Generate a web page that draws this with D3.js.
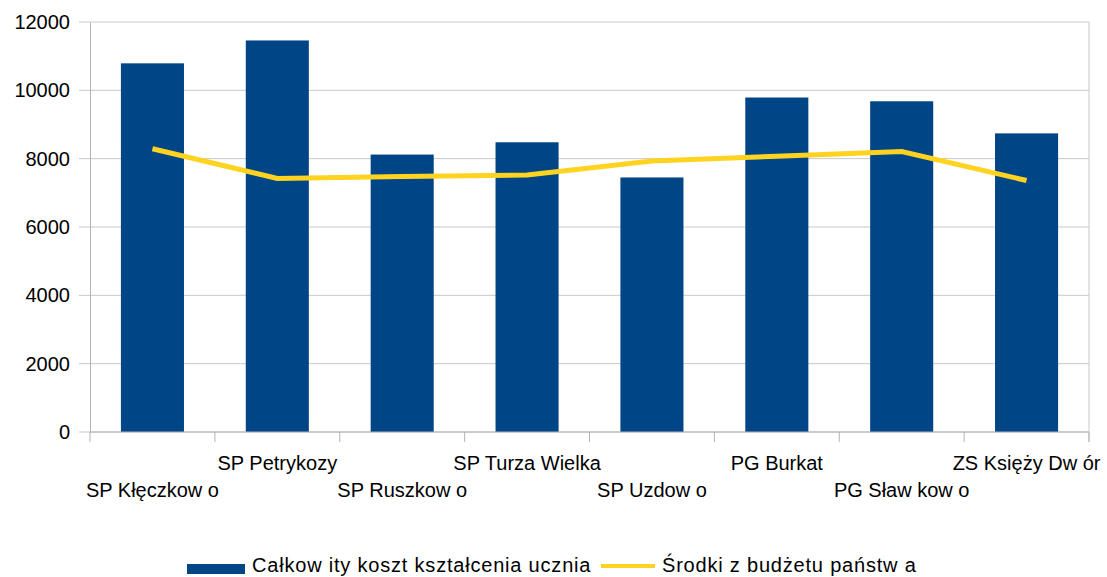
<!DOCTYPE html>
<html>
<head>
<meta charset="utf-8">
<script src="https://cdn.jsdelivr.net/npm/d3@7"></script>
<style>
  body { margin: 0; background: #fff; }
  text { font-family: "Liberation Sans", Arial, sans-serif; fill: #000; }
</style>
</head>
<body>
<div id="chart"></div>
<script>
// data
const schools = ["SP Kłęczkow o", "SP Petrykozy", "SP Ruszkow o", "SP Turza Wielka",
  "SP Uzdow o", "PG Burkat", "PG Sław kow o", "ZS Księży Dw ór"];
const totalCost = [10790, 11460, 8120, 8480, 7450, 9790, 9680, 8740];
const stateFunds = [8290, 7420, 7480, 7520, 7930, 8070, 8210, 7360];
const yTicks = [0, 2000, 4000, 6000, 8000, 10000, 12000];
const seriesNames = ["Całkow ity koszt kształcenia ucznia", "Środki z budżetu państw a"];

const W = 1107, H = 577;
const margin = { top: 22, left: 90, right: 18, bottom: 145 };
const width = W - margin.left - margin.right;
const height = H - margin.top - margin.bottom;

const svg = d3.select("#chart").append("svg")
  .attr("width", W).attr("height", H);
const g = svg.append("g")
  .attr("transform", `translate(${margin.left},${margin.top})`);

const x = d3.scaleBand().domain(schools).range([0, width]).paddingInner(0).paddingOuter(0);
const y = d3.scaleLinear().domain([0, 12000]).range([height, 0]);

// gridlines
g.append("g")
  .selectAll("line")
  .data(yTicks)
  .join("line")
    .attr("x1", -11).attr("x2", width)
    .attr("y1", d => y(d)).attr("y2", d => y(d))
    .attr("stroke", "#c8c8c8").attr("stroke-width", 1);

// y axis
const yAxis = g.append("g")
  .call(d3.axisLeft(y).tickValues(yTicks).tickSize(0).tickPadding(20).tickFormat(d3.format("d")));
yAxis.select(".domain").attr("stroke", "#b3b3b3");
yAxis.selectAll("text").style("font-size", "20px");

// right border
g.append("line")
  .attr("x1", width).attr("x2", width).attr("y1", 0).attr("y2", height + 10)
  .attr("stroke", "#c8c8c8");

// bars
const barW = x.bandwidth() * 0.505;
g.selectAll("rect.bar")
  .data(totalCost)
  .join("rect")
    .attr("class", "bar")
    .attr("x", (d, i) => x(schools[i]) + (x.bandwidth() - barW) / 2)
    .attr("y", d => y(d))
    .attr("width", barW)
    .attr("height", d => height - y(d))
    .attr("fill", "#004586");

// x axis with ticks at band boundaries
const xb = g.append("g").attr("transform", `translate(0,${height})`);
xb.append("line").attr("x1", 0).attr("x2", width).attr("stroke", "#b3b3b3");
xb.selectAll("line.tick")
  .data(d3.range(schools.length + 1))
  .join("line")
    .attr("class", "tick")
    .attr("x1", i => i * x.step()).attr("x2", i => i * x.step())
    .attr("y1", 0).attr("y2", 10)
    .attr("stroke", "#b3b3b3");
xb.selectAll("text")
  .data(schools)
  .join("text")
    .attr("x", d => x(d) + x.bandwidth() / 2)
    .attr("y", (d, i) => i % 2 === 0 ? 65 : 38)
    .attr("text-anchor", "middle")
    .style("font-size", "20px")
    .text(d => d);

// line
g.append("path")
  .datum(stateFunds)
  .attr("fill", "none")
  .attr("stroke", "#ffd320")
  .attr("stroke-width", 5)
  .attr("d", d3.line()
    .x((d, i) => x(schools[i]) + x.bandwidth() / 2)
    .y(d => y(d)));

// legend
const lg = svg.append("g");
lg.append("rect").attr("x", 187).attr("y", 564).attr("width", 58).attr("height", 10).attr("fill", "#004586");
lg.append("text").attr("x", 252).attr("y", 572).style("font-size", "20px")
  .style("letter-spacing", "0.8px").text(seriesNames[0]);
lg.append("line").attr("x1", 601).attr("x2", 655).attr("y1", 566).attr("y2", 566)
  .attr("stroke", "#ffd320").attr("stroke-width", 4);
lg.append("text").attr("x", 662).attr("y", 572).style("font-size", "20px")
  .style("letter-spacing", "0.8px").text(seriesNames[1]);
</script>
</body>
</html>
